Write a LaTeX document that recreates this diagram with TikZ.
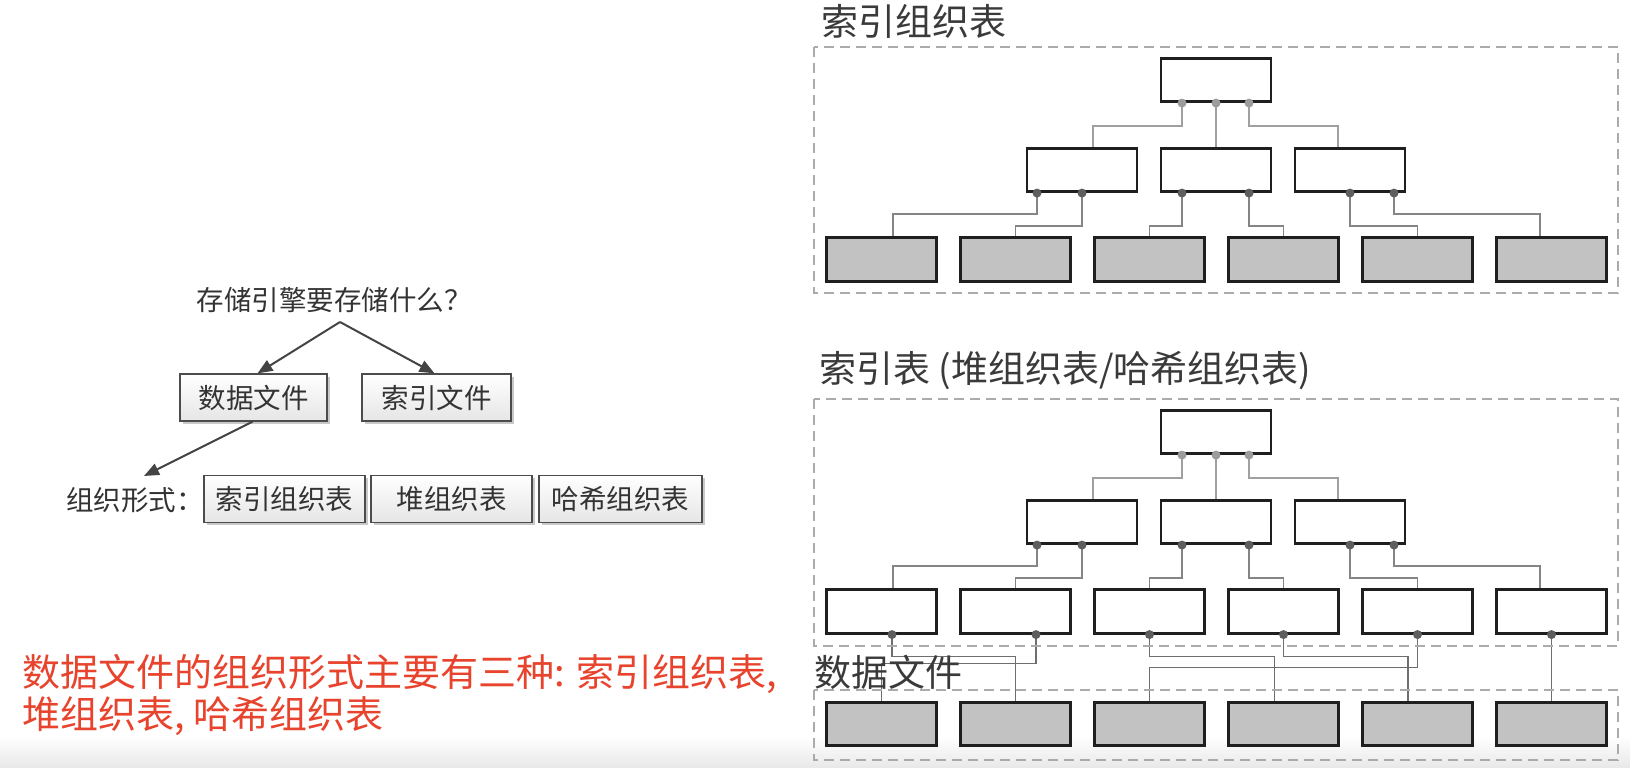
\documentclass[tikz,border=0pt]{standalone}
\usepackage{fontspec}
\setmainfont{Noto Sans CJK SC}
\usetikzlibrary{shadows,calc,arrows.meta}
\definecolor{boxgray}{HTML}{C2C2C2}
\definecolor{redtxt}{HTML}{E8432D}
\definecolor{titletxt}{HTML}{3A3A3A}
\definecolor{lefttxt}{HTML}{333333}
\definecolor{dashgray}{HTML}{ABABAB}
\definecolor{connlight}{HTML}{A0A0A0}
\definecolor{conndark}{HTML}{858585}
\definecolor{conndata}{HTML}{6E6E6E}
\definecolor{dotlight}{HTML}{9C9C9C}
\definecolor{dotdark}{HTML}{5E5E5E}
\definecolor{arrgray}{HTML}{444444}
\pgfdeclarelayer{bg}
\pgfdeclarelayer{wires}
\pgfsetlayers{bg,wires,main}
\newcommand{\titlefont}{\fontsize{37}{44}\selectfont}
\newcommand{\leftfont}{\fontsize{27.5}{32}\selectfont}
\newcommand{\redfont}{\fontsize{38}{42}\selectfont}
\begin{document}
\begin{tikzpicture}[x=1pt,y=-1pt,
  treebox/.style={draw=black!88, line width=2.6pt, minimum width=110pt, minimum height=43.5pt, inner sep=0pt, fill=white},
  connA/.style={draw=connlight, line width=1.8pt},
  connB/.style={draw=conndark, line width=1.8pt},
  connC/.style={draw=conndata, line width=1.8pt},
  dashbox/.style={draw=dashgray, line width=1.6pt, dash pattern=on 10pt off 6pt},
  titlelbl/.style={anchor=west, inner sep=0pt, font=\titlefont, text=titletxt},
  lbox/.style={draw=black!70, line width=1.3pt, top color=white, bottom color=black!10,
    drop shadow={shadow xshift=2.5pt, shadow yshift=-2.5pt, fill=black!35, opacity=0.6},
    inner sep=0pt, minimum height=47pt, font=\leftfont, text=lefttxt},
  arr/.style={draw=arrgray, line width=2pt, -{Triangle[length=15pt,width=12pt]}}
]
\useasboundingbox (0,0) rectangle (1630,768);
\begin{pgfonlayer}{bg}
\fill[white] (0,0) rectangle (1630,768);
\shade[top color=white, bottom color=black!9] (0,736) rectangle (1630,768);
\end{pgfonlayer}

% ---------------- right side: dashed frames and titles ----------------
\draw[dashbox] (814,47) rectangle (1618,293);
\draw[dashbox] (814,399) rectangle (1618,646);
\draw[dashbox] (814,690) rectangle (1618,760);
\node[titlelbl] (t1) at (821,21) {索引组织表};
\node[titlelbl] (t2) at (819,371) {索引表 (堆组织表/哈希组织表)};
\node[titlelbl] (t3) at (814,672) {数据文件};

% ---------------- two trees ----------------
\foreach \p/\dy/\fc in {T/0/boxgray,B/352/white}{
  \node[treebox] (\p r) at (1216,80+\dy) {};
  \node[treebox] (\p b1) at (1082,170+\dy) {};
  \node[treebox] (\p b2) at (1216,170+\dy) {};
  \node[treebox] (\p b3) at (1350,170+\dy) {};
  \foreach \i in {1,...,6}
    \node[treebox, fill=\fc] (\p l\i) at ({881.5+134*(\i-1)},259.5+\dy) {};
  \coordinate (\p ra) at ($(\p r.south)+(-34,0)$);
  \coordinate (\p rb) at (\p r.south);
  \coordinate (\p rc) at ($(\p r.south)+(33,0)$);
  \coordinate (\p b1a) at ($(\p b1.south)+(-45,0)$);
  \coordinate (\p b1b) at (\p b1.south);
  \coordinate (\p b2a) at ($(\p b2.south)+(-34,0)$);
  \coordinate (\p b2b) at ($(\p b2.south)+(33,0)$);
  \coordinate (\p b3a) at (\p b3.south);
  \coordinate (\p b3b) at ($(\p b3.south)+(44,0)$);
  \begin{pgfonlayer}{wires}
    \draw[connA] (\p ra) -- ++(0,23) -| ($(\p b1.north)+(11,0)$);
    \draw[connA] (\p rb) -- (\p b2.north);
    \draw[connA] (\p rc) -- ++(0,23) -| ($(\p b3.north)+(-12,0)$);
    \draw[connB] (\p b1a) -- ++(0,21) -| ($(\p l1.north)+(11.5,0)$);
    \draw[connB] (\p b1b) -- ++(0,33) -| (\p l2.north);
    \draw[connB] (\p b2a) -- ++(0,33) -| (\p l3.north);
    \draw[connB] (\p b2b) -- ++(0,33) -| (\p l4.north);
    \draw[connB] (\p b3a) -- ++(0,33) -| (\p l5.north);
    \draw[connB] (\p b3b) -- ++(0,21) -| ($(\p l6.north)+(-11.5,0)$);
  \end{pgfonlayer}
  \foreach \d in {ra,rb,rc}
    \fill[dotlight] (\p\d) circle[radius=4.5pt];
  \foreach \d in {b1a,b1b,b2a,b2b,b3a,b3b}
    \fill[dotdark] (\p\d) circle[radius=4.5pt];
}

% ---------------- data file blocks (bottom) ----------------
\foreach \i in {1,...,6}
  \node[treebox, fill=boxgray] (D\i) at ({881.5+134*(\i-1)},724) {};
\coordinate (Bd1) at ($(Bl1.south)+(10.5,0)$);
\coordinate (Bd2) at ($(Bl2.south)+(20.5,0)$);
\coordinate (Bd3) at (Bl3.south);
\coordinate (Bd4) at (Bl4.south);
\coordinate (Bd5) at (Bl5.south);
\coordinate (Bd6) at (Bl6.south);
\begin{pgfonlayer}{wires}
  \draw[connC] (Bd1) -- ++(0,22) -| (D2.north);
  \draw[connC] (Bd2) -- ++(0,29) -| (D1.north);
  \draw[connC] (Bd3) -- ++(0,22) -| ($(D4.north)+(-9,0)$);
  \draw[connC] (Bd4) -- ++(0,22) -| ($(D5.north)+(-9.5,0)$);
  \draw[connC] (Bd5) -- ++(0,33) -| (D3.north);
  \draw[connC] (Bd6) -- (Bd6 |- D6.north);
\end{pgfonlayer}
\foreach \d in {Bd1,Bd2,Bd3,Bd4,Bd5,Bd6}
  \fill[dotdark] (\d) circle[radius=4.5pt];

% ---------------- left diagram ----------------
\node[font=\leftfont, text=lefttxt, inner sep=0pt] (q) at (334,300) {存储引擎要存储什么？};
\coordinate (apex) at (340,322);
\node[lbox, minimum width=147pt] (df) at (253.5,397.5) {数据文件};
\node[lbox, minimum width=149pt] (sf) at (436.5,397.5) {索引文件};
\draw[arr] (apex) -- ($(df.north)+(4,0)$);
\draw[arr] (apex) -- ($(sf.north)+(-2,0)$);
\coordinate (orgtip) at (144,476);
\draw[arr] ($(df.south)+(-1,0)$) -- (orgtip);
\node[font=\leftfont, text=lefttxt, anchor=east, inner sep=0pt] (org) at (204,500) {组织形式：};
\node[lbox, minimum width=161pt] (a1) at (284.5,499) {索引组织表};
\node[lbox, minimum width=161pt] (a2) at (451.5,499) {堆组织表};
\node[lbox, minimum width=163pt] (a3) at (620.5,499) {哈希组织表};

% ---------------- red note ----------------
\node[anchor=north west, align=left, inner sep=0pt, font=\redfont, text=redtxt] (note) at (22,654)
  {数据文件的组织形式主要有三种: 索引组织表,\\堆组织表, 哈希组织表};
\end{tikzpicture}
\end{document}
